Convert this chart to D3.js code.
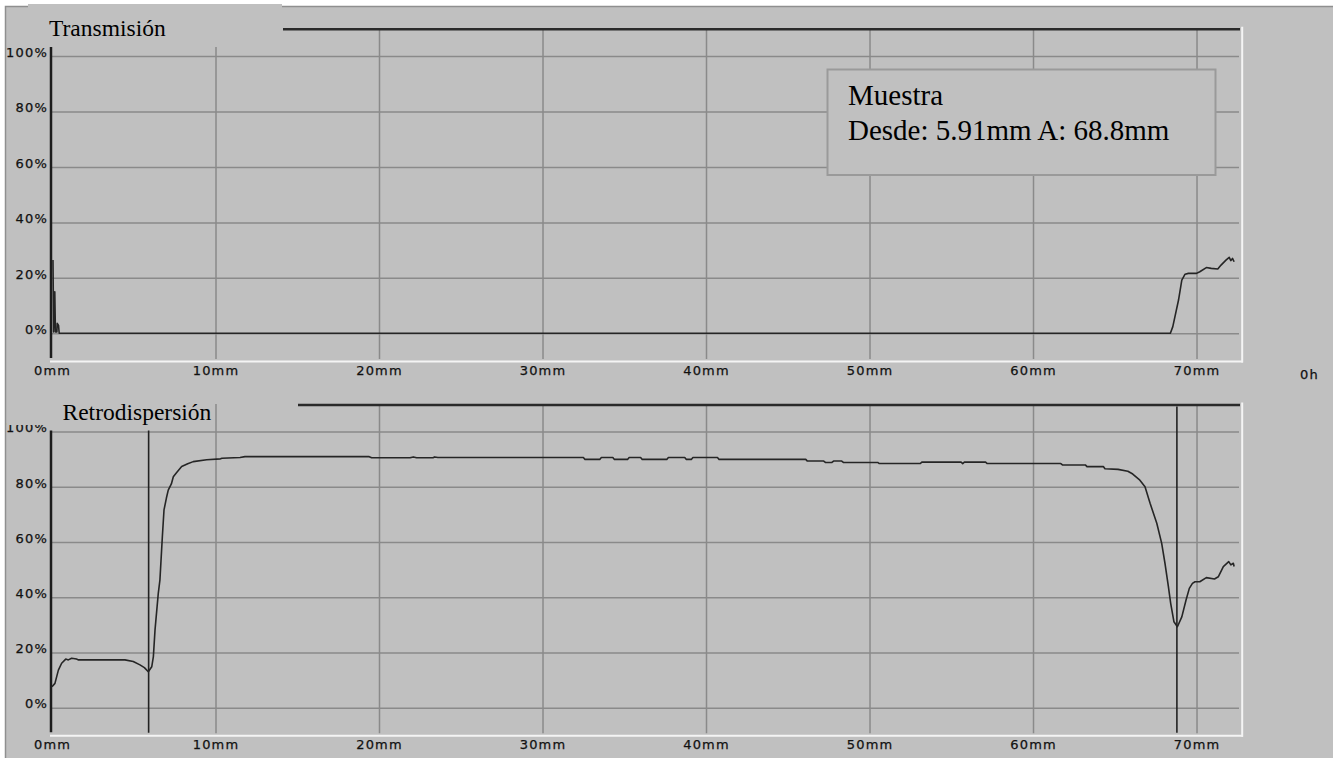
<!DOCTYPE html>
<html>
<head>
<meta charset="utf-8">
<script src="https://cdn.jsdelivr.net/npm/d3@7"></script>
<style>
  html, body { margin: 0; padding: 0; background: #ffffff; }
  svg { display: block; }
  .tick-label { font-family: "DejaVu Sans", sans-serif; font-size: 13px; letter-spacing: 1.2px; fill: #111; stroke: #111; stroke-width: 0.25px; }
  .title { font-family: "Liberation Serif", "Times New Roman", serif; fill: #000; }
</style>
</head>
<body>
<svg id="chart" width="1333" height="758"></svg>
<script>
// ---- data ---------------------------------------------------------------
const xTicks = [0, 10, 20, 30, 40, 50, 60, 70];
const xTickLabels = ["0mm", "10mm", "20mm", "30mm", "40mm", "50mm", "60mm", "70mm"];
const yTicks = [0, 20, 40, 60, 80, 100];
const yTickLabels = ["0%", "20%", "40%", "60%", "80%", "100%"];

// Transmission profile: [height (mm), transmission (%)]
const transmission = [
  [0.06, 26.4], [0.10, 0.5], [0.17, 15.0], [0.21, 0.5], [0.30, 0.5], [0.32, 3.6],
  [0.40, 2.8], [0.44, 0], [68.40, 0], [68.55, 2.4], [68.90, 12.0], [69.10, 19.2],
  [69.30, 21.3], [69.50, 21.6], [70.00, 21.6], [70.20, 22.2], [70.60, 23.7],
  [70.90, 23.4], [71.30, 23.2], [71.50, 24.6], [71.80, 26.4], [72.00, 27.4],
  [72.10, 26.2], [72.20, 27.0], [72.30, 25.8]
];

// Backscattering profile: [height (mm), backscattering (%)]
const backscattering = [
  [0.00, 7.6], [0.18, 8.8], [0.39, 13.6], [0.59, 16.1], [0.84, 17.6], [1.00, 17.3],
  [1.20, 17.9], [1.50, 17.6], [1.60, 17.3], [4.46, 17.3], [4.97, 16.7], [5.38, 15.5],
  [5.65, 14.5], [5.89, 13.0], [6.10, 14.8], [6.20, 18.5], [6.30, 28.1], [6.50, 41.4],
  [6.60, 46.2], [6.75, 62.0], [6.85, 71.6], [7.00, 76.0], [7.11, 78.8], [7.30, 81.0],
  [7.42, 83.6], [7.60, 85.0], [7.93, 87.3], [8.30, 88.3], [8.64, 89.1], [9.46, 89.8],
  [10.30, 90.1], [10.40, 90.3], [11.50, 90.6], [11.80, 90.9], [19.40, 90.9],
  [19.55, 90.5], [21.90, 90.5], [22.10, 90.8], [22.30, 90.5], [23.30, 90.5],
  [23.40, 90.8], [23.60, 90.6], [32.50, 90.6], [32.60, 89.9], [33.50, 89.9],
  [33.60, 90.6], [34.30, 90.6], [34.40, 89.9], [35.20, 89.9], [35.30, 90.6],
  [36.00, 90.6], [36.10, 89.9], [37.60, 89.9], [37.70, 90.6], [38.70, 90.6],
  [38.80, 89.9], [39.10, 89.9], [39.20, 90.6], [40.70, 90.6], [40.80, 89.9],
  [46.10, 89.9], [46.20, 89.3], [47.20, 89.3], [47.30, 88.8], [47.70, 88.8],
  [47.80, 89.3], [48.30, 89.3], [48.40, 88.8], [50.50, 88.8], [50.60, 88.4],
  [53.10, 88.4], [53.20, 88.9], [55.60, 88.9], [55.70, 88.4], [55.80, 88.9],
  [57.10, 88.9], [57.20, 88.4], [61.70, 88.4], [61.80, 87.9], [63.20, 87.9],
  [63.30, 87.3], [64.30, 87.3], [64.40, 86.5], [65.20, 86.3], [65.80, 85.6],
  [66.10, 84.6], [66.50, 82.6], [66.85, 80.0], [67.16, 74.0], [67.57, 66.8],
  [67.87, 59.5], [68.07, 52.3], [68.28, 43.8], [68.42, 37.8], [68.62, 31.1],
  [68.83, 29.3], [69.10, 32.9], [69.36, 39.0], [69.56, 43.2], [69.75, 45.0],
  [69.91, 45.6], [70.20, 45.6], [70.60, 47.1], [71.10, 46.6], [71.33, 47.4],
  [71.64, 51.1], [71.97, 52.9], [72.10, 51.7], [72.25, 52.3], [72.30, 51.1]
];

// Selected sample zone (cursor positions, mm)
const cursorFrom = 5.91;
const cursorTo = 68.8;
const legendTitle = "Muestra";

// ---- layout -------------------------------------------------------------
const svg = d3.select("#chart");
const plotLeft = 51;
const gridRight = 1239;

const x = d3.scaleLinear().domain([0, 72.8]).range([52, 1242.3]);

// Window frame
svg.append("rect")
  .attr("x", 5.5).attr("y", 6.5).attr("width", 1340).attr("height", 760)
  .attr("fill", "#c0c0c0").attr("stroke", "#8f8f8f").attr("stroke-width", 1.5);

const panels = [
  {
    title: "Transmisión", data: transmission,
    yTop: 28.3, yBottom: 361, lineStart: 283,
    titleX: 49, titleY: 36, cursors: [],
    covers: [{ x: 28, y: 4, w: 254, h: 43 }]
  },
  {
    title: "Retrodispersión", data: backscattering,
    yTop: 403.9, yBottom: 735.3, lineStart: 298,
    titleX: 62.5, titleY: 420, cursors: [cursorFrom, cursorTo],
    covers: [{ x: 7, y: 389, w: 40, h: 36 }, { x: 48, y: 395, w: 166, h: 35.5 }]
  }
];

panels.forEach(p => {
  const y = d3.scaleLinear().domain([-10, 110]).range([p.yBottom, p.yTop]);
  const g = svg.append("g");

  // horizontal gridlines
  const hGrid = g.append("g")
    .attr("transform", `translate(${plotLeft},0)`)
    .call(d3.axisLeft(y).tickValues(yTicks).tickSize(-(gridRight - plotLeft)).tickFormat(""));
  hGrid.select(".domain").remove();
  hGrid.selectAll("line").attr("stroke", "#8a8a8a").attr("stroke-width", 1.5);

  // vertical gridlines
  const vGrid = g.append("g")
    .attr("transform", `translate(0,${p.yBottom - 2})`)
    .call(d3.axisBottom(x).tickValues(xTicks.filter(d => d > 0))
      .tickSize(-(p.yBottom - 2 - p.yTop)).tickFormat(""));
  vGrid.select(".domain").remove();
  vGrid.selectAll("line").attr("stroke", "#8a8a8a").attr("stroke-width", 1.5);

  // top border (dark)
  g.append("line")
    .attr("x1", p.lineStart).attr("x2", gridRight + 1)
    .attr("y1", p.yTop + 1).attr("y2", p.yTop + 1)
    .attr("stroke", "#2a2a2a").attr("stroke-width", 2.5);

  // bottom and right borders (light)
  g.append("line")
    .attr("x1", plotLeft - 1).attr("x2", 1243)
    .attr("y1", p.yBottom + 0.5).attr("y2", p.yBottom + 0.5)
    .attr("stroke", "#f4f4f4").attr("stroke-width", 2);
  g.append("line")
    .attr("x1", 1242.2).attr("x2", 1242.2)
    .attr("y1", p.yTop - 1.5).attr("y2", p.yBottom + 1.5)
    .attr("stroke", "#f4f4f4").attr("stroke-width", 2);

  // left axis line
  g.append("line")
    .attr("x1", plotLeft).attr("x2", plotLeft)
    .attr("y1", y(104)).attr("y2", p.yBottom - 3)
    .attr("stroke", "#1c1c1c").attr("stroke-width", 2.5);

  // cursors
  g.selectAll("line.cursor").data(p.cursors).enter().append("line")
    .attr("class", "cursor")
    .attr("x1", d => x(d)).attr("x2", d => x(d))
    .attr("y1", p.yTop + 2.5).attr("y2", p.yBottom - 2.5)
    .attr("stroke", "#222").attr("stroke-width", 1.6);

  // profile curve
  const line = d3.line().x(d => x(d[0])).y(d => y(d[1]));
  g.append("path").datum(p.data)
    .attr("d", line)
    .attr("fill", "none").attr("stroke", "#252525").attr("stroke-width", 1.6)
    .attr("stroke-linejoin", "round");

  // y tick labels
  const yAx = g.append("g")
    .attr("transform", `translate(${plotLeft},0)`)
    .call(d3.axisLeft(y).tickValues(yTicks).tickSize(0).tickPadding(3)
      .tickFormat((d, i) => yTickLabels[i]));
  yAx.select(".domain").remove();
  yAx.selectAll("text").attr("class", "tick-label").attr("dy", "0.3").attr("font-family", null).attr("font-size", null);

  // x tick labels
  const xAx = g.append("g")
    .attr("transform", `translate(0,${p.yBottom})`)
    .call(d3.axisBottom(x).tickValues(xTicks).tickSize(0)
      .tickFormat((d, i) => xTickLabels[i]));
  xAx.select(".domain").remove();
  xAx.selectAll("text").attr("class", "tick-label").attr("y", 13.8).attr("dy", 0)
    .attr("font-family", null).attr("font-size", null);

  // title tab
  p.covers.forEach(c => {
    g.append("rect").attr("x", c.x).attr("y", c.y).attr("width", c.w).attr("height", c.h)
      .attr("fill", "#c0c0c0");
  });
  g.append("text").attr("class", "title")
    .attr("x", p.titleX).attr("y", p.titleY)
    .attr("font-size", 23.5)
    .text(p.title);
});

// time label at the right of the transmission axis
svg.append("text").attr("class", "tick-label")
  .attr("x", 1300).attr("y", 379.3).text("0h");

// legend box for the selected zone
const legend = svg.append("g");
legend.append("rect")
  .attr("x", 827.5).attr("y", 69.5).attr("width", 388).attr("height", 105.5)
  .attr("fill", "#c0c0c0").attr("stroke", "#9a9a9a").attr("stroke-width", 2);
legend.append("text").attr("class", "title")
  .attr("x", 848).attr("y", 105).attr("font-size", 29)
  .text(legendTitle);
legend.append("text").attr("class", "title")
  .attr("x", 848).attr("y", 139.5).attr("font-size", 29)
  .text(`Desde: ${cursorFrom}mm A: ${cursorTo}mm`);
</script>
</body>
</html>
